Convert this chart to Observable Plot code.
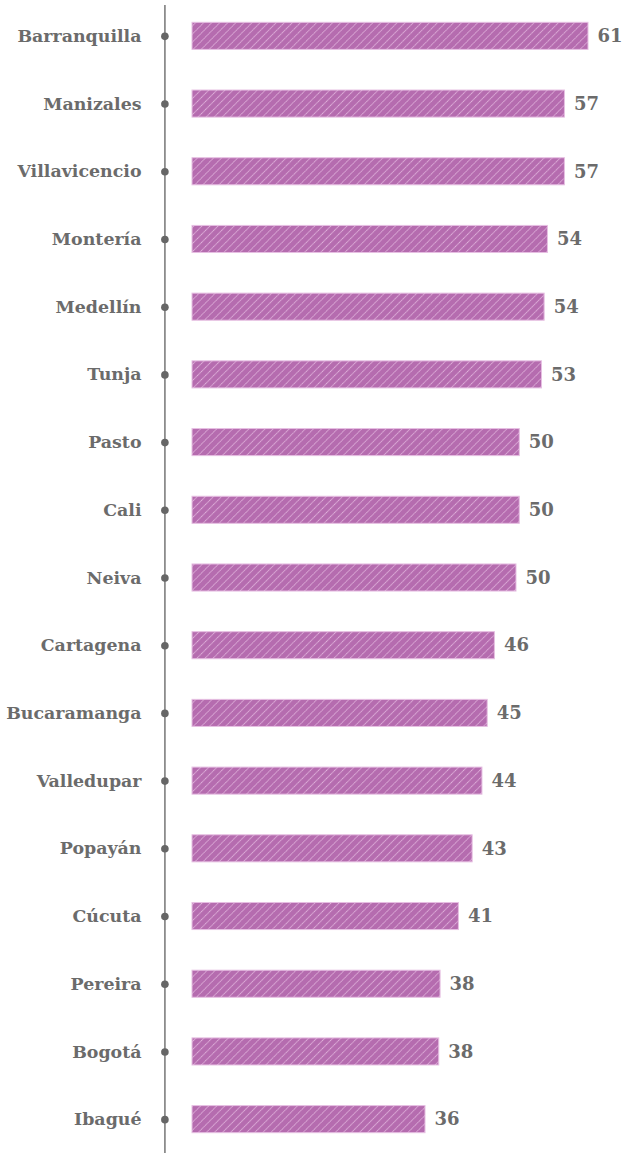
<!DOCTYPE html>
<html>
<head>
<meta charset="utf-8">
<script src="https://cdn.jsdelivr.net/npm/d3@7"></script>
<script src="https://cdn.jsdelivr.net/npm/@observablehq/plot@0.6"></script>
<style>
  html, body { margin: 0; padding: 0; background: #ffffff; }
  #chart svg { display: block; }
</style>
</head>
<body>
<div id="chart"></div>
<script>
const cities = ["Barranquilla", "Manizales", "Villavicencio", "Montería", "Medellín", "Tunja", "Pasto", "Cali", "Neiva", "Cartagena", "Bucaramanga", "Valledupar", "Popayán", "Cúcuta", "Pereira", "Bogotá", "Ibagué"];
const values = [60.5, 56.9, 56.9, 54.3, 53.8, 53.4, 50.0, 50.0, 49.5, 46.2, 45.1, 44.3, 42.8, 40.7, 37.9, 37.7, 35.6];

const data = cities.map((city, i) => ({city, value: values[i]}));

const textColor = "#6b6b6b";
const font = "'DejaVu Serif', serif";

function hatchDefs() {
  const ns = "http://www.w3.org/2000/svg";
  const defs = document.createElementNS(ns, "defs");
  const pat = document.createElementNS(ns, "pattern");
  pat.setAttribute("id", "hatch");
  pat.setAttribute("patternUnits", "userSpaceOnUse");
  pat.setAttribute("width", "5.7");
  pat.setAttribute("height", "5.7");
  pat.setAttribute("patternTransform", "rotate(45)");
  const bg = document.createElementNS(ns, "rect");
  bg.setAttribute("width", "5.7");
  bg.setAttribute("height", "5.7");
  bg.setAttribute("fill", "#b56caf");
  const ln = document.createElementNS(ns, "line");
  ln.setAttribute("x1", "0.5");
  ln.setAttribute("x2", "0.5");
  ln.setAttribute("y1", "0");
  ln.setAttribute("y2", "5.7");
  ln.setAttribute("stroke", "#e2b6de");
  ln.setAttribute("stroke-width", "0.9");
  ln.setAttribute("stroke-dasharray", "1.4 0.6");
  pat.appendChild(bg);
  pat.appendChild(ln);
  defs.appendChild(pat);
  return defs;
}

const chart = Plot.plot({
  width: 628,
  height: 1153,
  marginTop: 2,
  marginBottom: 0,
  marginLeft: 192,
  marginRight: 4,
  style: {fontFamily: font, background: "#ffffff"},
  x: {domain: [0, 66], axis: null},
  y: {domain: cities, paddingInner: 0.6, paddingOuter: 0.3, round: false, label: null},
  marks: [
    () => hatchDefs(),
    Plot.ruleX([0], {dx: -27.6, insetTop: 3, stroke: "#8c8c8c", strokeWidth: 1.8}),
    Plot.dot(data, {x: () => 0, y: "city", dx: -27.6, r: 3.8, fill: "#666666", stroke: "none"}),
    Plot.barX(data, {x: "value", y: "city", fill: "url(#hatch)", stroke: "#e6bfe2", strokeWidth: 1}),
    Plot.text(data, {x: "value", y: "city", text: d => d3.format(".0f")(d.value), dx: 9, textAnchor: "start", fontSize: 18, fontWeight: "bold", fill: textColor}),
    Plot.axisY({tickSize: 0, tickPadding: 51, fontSize: 17.4, fontWeight: "bold", fill: textColor, label: null})
  ]
});

document.getElementById("chart").appendChild(chart);
</script>
</body>
</html>
